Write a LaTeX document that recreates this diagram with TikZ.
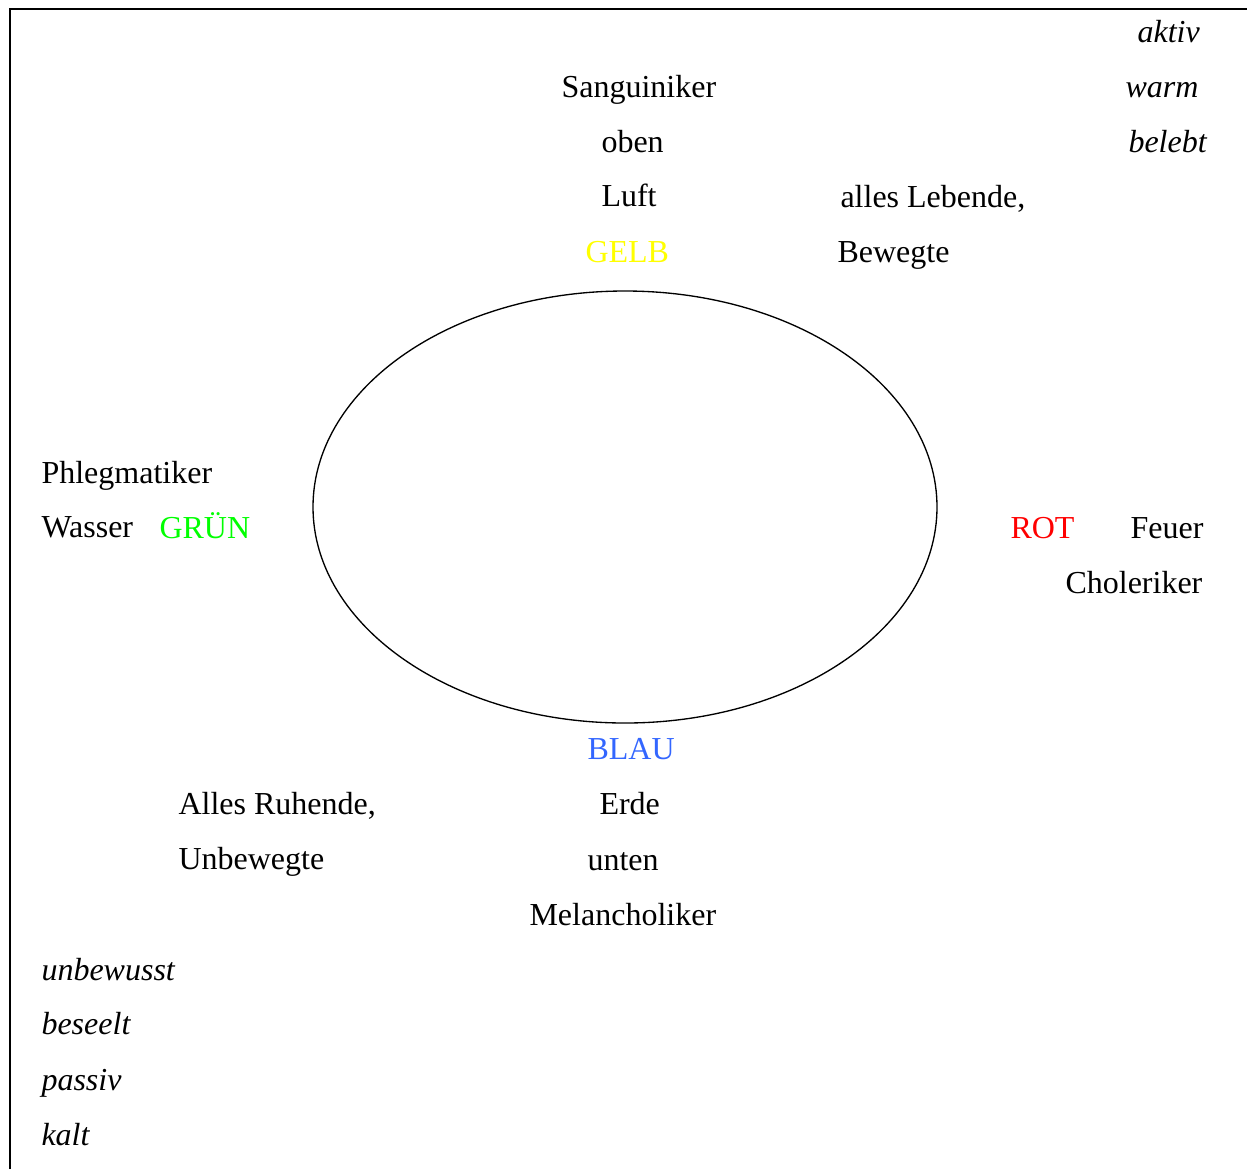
\documentclass[tikz,border=0pt]{standalone}
\usepackage{fontspec}
\setmainfont{Liberation Serif}
\usetikzlibrary{positioning}
\definecolor{gelb}{RGB}{255,255,0}
\definecolor{gruen}{RGB}{0,255,0}
\definecolor{rot}{RGB}{255,0,0}
\definecolor{blau}{RGB}{51,102,255}

\begin{document}
\begin{tikzpicture}[x=0.375pt, y=-0.375pt, word/.style={inner sep=0pt, anchor=base west, font=\fontsize{12}{14}\selectfont}, quality/.style={word, font=\fontsize{12}{14}\selectfont\itshape}]

\useasboundingbox (0,0) rectangle (1247,1169);

% FRAME

\draw[line width=0.75pt] (10,1169) -- (10,9) -- (1247,9);

% CIRCLE

\draw[line width=0.5pt] (625,507) ellipse [x radius=312, y radius=216];

% TOP

\node [quality] (aktiv) at (1137,42) {aktiv};
\node [quality] (warm) at (1125,97) {warm};
\node [quality] (belebt) at (1128,152) {belebt};

\node [word] (sanguiniker) at (561,97) {Sanguiniker};
\node [word] (oben) at (601,152) {oben};
\node [word, below=20.6pt of oben.base west, anchor=base west] (luft) {Luft};
\node [word, text=gelb] (gelb) at (585,262) {GELB};

\node [word] (lebende) at (840,207) {alles Lebende,};
\node [word] (bewegte) at (837,262) {Bewegte};

% SIDES

\node [word] (phlegmatiker) at (41,483) {Phlegmatiker};
\node [word, below=20.6pt of phlegmatiker.base west, anchor=base west] (wasser) {Wasser};
\node [word, text=gruen] (gruen) at (159,538) {GRÜN};

\node [word, text=rot] (rot) at (1010,538) {ROT};
\node [word] (feuer) at (1130,538) {Feuer};
\node [word] (choleriker) at (1065,593) {Choleriker};

% BOTTOM

\node [word, text=blau] (blau) at (587,759) {BLAU};
\node [word] (erde) at (599,814) {Erde};
\node [word] (unten) at (587,870) {unten};
\node [word] (melancholiker) at (529,925) {Melancholiker};

\node [word] (ruhende) at (178,814) {Alles Ruhende,};
\node [word, below=20.8pt of ruhende.base west, anchor=base west] (unbewegte) {Unbewegte};

\node [quality] (unbewusst) at (41,980) {unbewusst};
\node [quality, below=20.6pt of unbewusst.base west, anchor=base west] (beseelt) {beseelt};
\node [quality, below=20.8pt of beseelt.base west, anchor=base west] (passiv) {passiv};
\node [quality, below=20.6pt of passiv.base west, anchor=base west] (kalt) {kalt};

\end{tikzpicture}
\end{document}
